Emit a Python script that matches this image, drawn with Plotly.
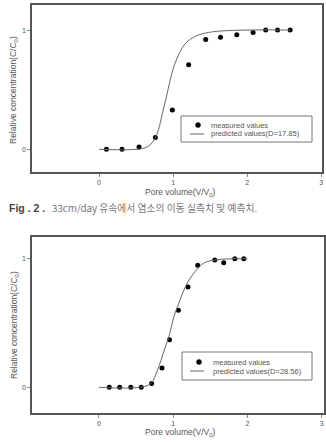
import plotly.graph_objects as go

# ---- Data: top chart (33 cm/day) ----
top_meas_x = [0.10, 0.31, 0.54, 0.76, 0.99, 1.21, 1.44, 1.64, 1.86, 2.08, 2.25, 2.41, 2.58]
top_meas_y = [0.00, 0.00, 0.02, 0.10, 0.33, 0.71, 0.92, 0.94, 0.96, 0.98, 1.00, 1.00, 1.00]
top_pred_x = [0.00, 0.50, 0.65, 0.74, 0.80, 0.855, 0.91, 0.96, 1.02, 1.08, 1.17, 1.31, 1.44, 1.60, 2.00, 2.58]
top_pred_y = [0.00, 0.00, 0.02, 0.075, 0.16, 0.30, 0.44, 0.58, 0.71, 0.80, 0.89, 0.95, 0.975, 0.99, 1.00, 1.00]

# ---- Data: bottom chart ----
bot_meas_x = [0.14, 0.28, 0.43, 0.57, 0.71, 0.85, 0.95, 1.07, 1.20, 1.33, 1.56, 1.68, 1.83, 1.95]
bot_meas_y = [0.00, 0.00, 0.00, 0.00, 0.03, 0.15, 0.37, 0.60, 0.78, 0.95, 0.99, 0.97, 1.00, 1.00]
bot_pred_x = [0.00, 0.55, 0.70, 0.79, 0.88, 0.95, 1.01, 1.08, 1.17, 1.28, 1.42, 1.56, 1.75, 2.00]
bot_pred_y = [0.00, 0.00, 0.03, 0.135, 0.29, 0.41, 0.55, 0.66, 0.79, 0.89, 0.97, 0.99, 1.00, 1.00]

x_ticks = [0, 1, 2, 3]
y_ticks = [0, 1]
top_pred_label = "predicted values(D=17.85)"
bot_pred_label = "predicted values(D=28.56)"
meas_label = "measured values"
caption_bold = "Fig . 2 ."
caption_text = "33cm/day 유속에서 염소의 이동 실측치 및 예측치."

W, H = 326, 443
FONT = "Liberation Sans, Arial, sans-serif"
TXT = "#555555"
LINE = "#555555"
CURVE = "#666666"

fig = go.Figure()

fig.add_trace(go.Scatter(x=top_meas_x, y=top_meas_y, mode="markers", name=meas_label,
                         marker=dict(color="black", size=5), xaxis="x", yaxis="y"))
fig.add_trace(go.Scatter(x=top_pred_x, y=top_pred_y, mode="lines", name=top_pred_label,
                         line=dict(color=CURVE, width=1, shape="spline", smoothing=1.0),
                         xaxis="x", yaxis="y"))
fig.add_trace(go.Scatter(x=bot_meas_x, y=bot_meas_y, mode="markers", name=meas_label,
                         marker=dict(color="black", size=5), xaxis="x2", yaxis="y2"))
fig.add_trace(go.Scatter(x=bot_pred_x, y=bot_pred_y, mode="lines", name=bot_pred_label,
                         line=dict(color=CURVE, width=1, shape="spline", smoothing=1.0),
                         xaxis="x2", yaxis="y2"))

def px_x(p):
    return p / W

def px_y(p):
    return 1 - p / H

axis_common = dict(showgrid=False, zeroline=False, showline=True, mirror=True,
                   linecolor=LINE, linewidth=1.5, ticks="outside", ticklen=3,
                   tickcolor="#888888", tickfont=dict(family=FONT, size=7, color=TXT))

fig.update_layout(
    width=W, height=H,
    margin=dict(l=0, r=0, t=0, b=0),
    paper_bgcolor="white", plot_bgcolor="white",
    showlegend=False,
    xaxis=dict(domain=[px_x(32), px_x(322)], range=[-0.905, 3.01], anchor="y",
               tickvals=x_ticks, **axis_common),
    yaxis=dict(domain=[px_y(172), px_y(5)], range=[-0.19, 1.21], anchor="x",
               tickvals=y_ticks, **axis_common),
    xaxis2=dict(domain=[px_x(32), px_x(324)], range=[-0.90, 3.03], anchor="y2",
                tickvals=x_ticks, **axis_common),
    yaxis2=dict(domain=[px_y(413), px_y(237)], range=[-0.20, 1.17], anchor="x2",
                tickvals=y_ticks, **axis_common),
)

ann_font = dict(family=FONT, size=8.5, color=TXT)
leg_font = dict(family=FONT, size=7.5, color=TXT)

def ann(text, x, y, **kw):
    d = dict(text=text, x=px_x(x), y=px_y(y), xref="paper", yref="paper",
             showarrow=False, xanchor="center", yanchor="middle", font=ann_font)
    d.update(kw)
    return d

annotations = [
    ann("Pore volume(V/V<sub>0</sub>)", 180, 192),
    ann("Relative concentration(C/C<sub>0</sub>)", 14, 90, textangle=-90),
    ann("Pore volume(V/V<sub>0</sub>)", 180, 432),
    ann("Relative concentration(C/C<sub>0</sub>)", 14, 325, textangle=-90),
    ann("<b>" + caption_bold + "</b>", 7, 208, xanchor="left",
        font=dict(family=FONT, size=10.5, color="#444444")),
    ann(caption_text, 50, 208, xanchor="left",
        font=dict(family="Noto Sans CJK KR", size=9.8, color="#777777")),
]

shapes = []

def add_legend(box, marker_xy, line_seg, text_x, rows, labels):
    x0, y0, x1, y1 = box
    shapes.append(dict(type="rect", xref="paper", yref="paper",
                       x0=px_x(x0), x1=px_x(x1), y0=px_y(y1), y1=px_y(y0),
                       line=dict(color="#777777", width=1), fillcolor="white", layer="above"))
    mx, my = marker_xy
    r = 2.5
    shapes.append(dict(type="circle", xref="paper", yref="paper",
                       x0=px_x(mx - r), x1=px_x(mx + r), y0=px_y(my + r), y1=px_y(my - r),
                       line=dict(color="black", width=0.5), fillcolor="black", layer="above"))
    lx0, lx1, ly = line_seg
    shapes.append(dict(type="line", xref="paper", yref="paper",
                       x0=px_x(lx0), x1=px_x(lx1), y0=px_y(ly), y1=px_y(ly),
                       line=dict(color=CURVE, width=1), layer="above"))
    for lab, ry in zip(labels, rows):
        annotations.append(ann(lab, text_x, ry, xanchor="left", font=leg_font))

add_legend((181, 116, 312, 142), (198, 125), (190, 204, 134), 209, (125, 134),
           (meas_label, top_pred_label))
add_legend((182, 352, 312, 380), (199, 362), (190, 204, 371), 211, (362, 371),
           (meas_label, bot_pred_label))

fig.update_layout(annotations=annotations, shapes=shapes)

fig.write_html("out.html")
